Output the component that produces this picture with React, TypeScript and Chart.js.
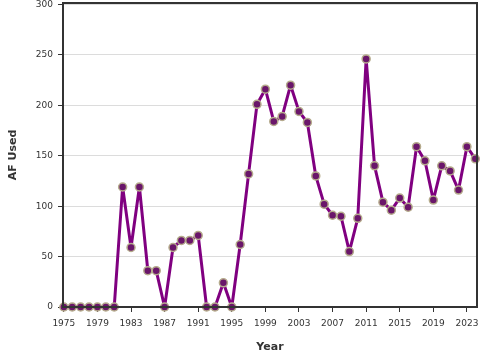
import React, { useEffect, useRef } from "react";
import { Chart, registerables } from "chart.js";

Chart.register(...registerables);

const years: number[] = [
  1975, 1976, 1977, 1978, 1979, 1980, 1981, 1982, 1983, 1984, 1985, 1986, 1987, 1988, 1989,
  1990, 1991, 1992, 1993, 1994, 1995, 1996, 1997, 1998, 1999, 2000, 2001, 2002, 2003, 2004,
  2005, 2006, 2007, 2008, 2009, 2010, 2011, 2012, 2013, 2014, 2015, 2016, 2017, 2018, 2019,
  2020, 2021, 2022, 2023, 2024,
];
const afUsed: number[] = [
  0, 0, 0, 0, 0, 0, 0, 119, 59, 119, 36, 36, 0, 59, 66,
  66, 71, 0, 0, 24, 0, 62, 132, 201, 216, 184, 189, 220, 194, 183,
  130, 102, 91, 90, 55, 88, 246, 140, 104, 96, 108, 99, 159, 145, 106,
  140, 135, 116, 159, 147,
];
const xTicks: number[] = [1975, 1979, 1983, 1987, 1991, 1995, 1999, 2003, 2007, 2011, 2015, 2019, 2023];
const yTicks: number[] = [0, 50, 100, 150, 200, 250, 300];

const boxPlugin = {
  id: "boxBorder",
  afterDraw(chart: any) {
    const { ctx, chartArea } = chart;
    ctx.save();
    ctx.strokeStyle = "#333";
    ctx.lineWidth = 2;
    ctx.strokeRect(chartArea.left, chartArea.top, chartArea.right - chartArea.left, chartArea.bottom - chartArea.top);
    ctx.restore();
  },
};

export default function App() {
  const ref = useRef<HTMLCanvasElement | null>(null);
  useEffect(() => {
    document.body.style.margin = "0";
    const canvas = ref.current!;
    const chart = new Chart(canvas, {
      type: "line",
      data: {
        datasets: [
          {
            data: years.map((y, i) => ({ x: y, y: afUsed[i] })),
            borderColor: "#800080",
            borderWidth: 3,
            borderJoinStyle: "round",
            borderCapStyle: "round",
            pointRadius: 4,
            pointBackgroundColor: "#6a166a",
            pointBorderColor: "#b5ab8c",
            pointBorderWidth: 1.5,
            tension: 0,
            clip: false as any,
          },
        ],
      },
      plugins: [boxPlugin],
      options: {
        animation: false,
        responsive: false,
        maintainAspectRatio: false,
        layout: { autoPadding: false, padding: { left: 0, right: 3, top: 3, bottom: 0 } },
        plugins: { legend: { display: false }, tooltip: { enabled: false } },
        scales: {
          x: {
            type: "linear",
            min: 1974.9,
            max: 2024.2,
            afterBuildTicks: (scale: any) => {
              scale.ticks = xTicks.map((v) => ({ value: v }));
            },
            afterFit: (scale: any) => {
              scale.height = 53;
              scale.paddingLeft = 0;
              scale.paddingRight = 0;
            },
            ticks: {
              autoSkip: false,
              maxRotation: 0,
              padding: 6,
              color: "#333",
              font: { family: "DejaVu Sans", size: 9 },
              callback: (v: any) => String(v),
            },
            grid: { drawOnChartArea: false, tickLength: 5, tickColor: "#333", tickWidth: 1 },
            border: { color: "#333", width: 2 },
            title: {
              display: true,
              text: "Year",
              color: "#333",
              font: { family: "DejaVu Sans", size: 11, weight: "bold" },
              padding: { top: 4, bottom: 6 },
            },
          },
          y: {
            type: "linear",
            min: 0,
            max: 301.5,
            afterBuildTicks: (scale: any) => {
              scale.ticks = yTicks.map((v) => ({ value: v }));
            },
            afterFit: (scale: any) => {
              scale.width = 63;
              scale.paddingTop = 0;
              scale.paddingBottom = 0;
            },
            ticks: {
              padding: 5,
              color: "#333",
              font: { family: "DejaVu Sans", size: 9 },
              callback: (v: any) => String(v),
            },
            grid: { color: "#dcdcdc", lineWidth: 1, tickLength: 5, tickColor: "#333" },
            border: { color: "#333", width: 2 },
            title: {
              display: true,
              text: "AF Used",
              color: "#333",
              font: { family: "DejaVu Sans", size: 11, weight: "bold" },
              padding: { top: 7, bottom: 0 },
            },
          },
        },
      },
    });
    return () => chart.destroy();
  }, []);
  return <canvas ref={ref} width={480} height={360} style={{ display: "block" }} />;
}
